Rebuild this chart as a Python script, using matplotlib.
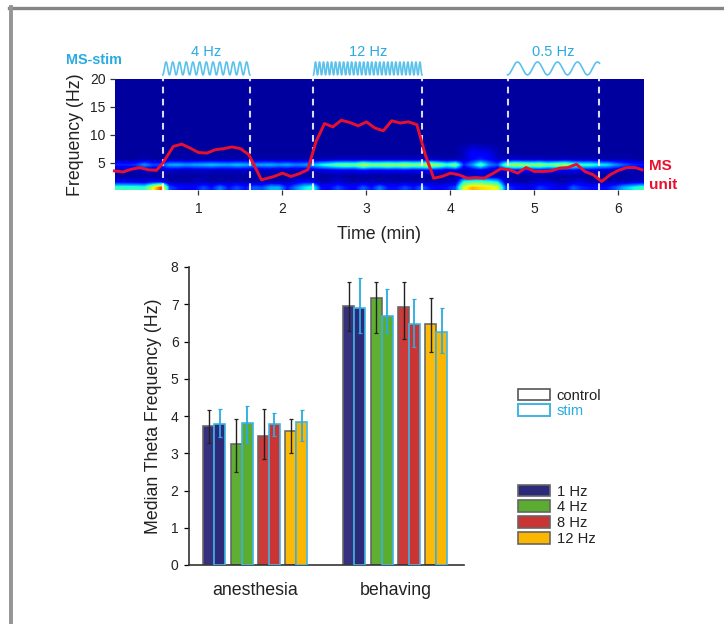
import numpy as np
import matplotlib
matplotlib.use("Agg")
import matplotlib.pyplot as plt
from matplotlib.lines import Line2D
from matplotlib.patches import Patch
from matplotlib.transforms import blended_transform_factory

plt.rcParams['font.family'] = ['Liberation Sans', 'DejaVu Sans']

W, H = 724, 624
BLUE = '#29abe2'
RED = '#e8102e'
TXT = '#222222'

# ---------- spectrogram data (columns of 0.1 min, rows of 1 Hz) ----------
unit_time = [0.0,0.1,0.2,0.3,0.4,0.5,0.575,0.7,0.8,0.9,1.0,1.1,1.2,1.3,1.4,1.5,1.6,1.7,1.75,1.9,2.0,2.1,2.2,2.3,2.4,2.5,2.6,2.7,2.8,2.9,3.0,3.1,3.2,3.3,3.4,3.5,3.6,3.7,3.8,3.9,4.0,4.1,4.2,4.3,4.4,4.5,4.6,4.7,4.8,4.9,5.0,5.1,5.2,5.3,5.4,5.5,5.6,5.7,5.8,5.9,6.0,6.1,6.2,6.28]
unit_freq = [3.5,3.3,3.8,4.1,3.7,3.6,4.9,7.9,8.3,7.6,6.8,6.7,7.3,7.5,7.8,7.5,6.4,3.4,1.9,2.5,3.1,2.5,3.0,3.7,8.8,12.0,11.4,12.6,12.2,11.6,12.3,11.2,10.7,12.5,12.1,12.3,11.8,6.4,2.2,2.5,3.1,2.8,2.2,2.3,2.2,3.0,3.9,3.7,3.1,4.1,3.4,3.4,3.5,4.0,4.1,4.7,3.4,2.8,1.6,2.8,3.6,4.1,4.1,3.7]

power_0_1hz = [.42,.42,.42,.40,.62,.85,.2,.14,.12,.12, .2,.14,.25,.14,.2,.14,.22,.2,.3,.3,.14,.25,.35,.42, .14,.12,.2,.14,.12,.22,.14,.25,.14,.14,.2,.14,.22,.14, .12,.14,.2, .62,.72,.68,.66,.62, .2,.14,.1,.1,.18,.14,.1,.1,.22,.16,.14,.14, .14,.2,.3,.36,.42]
power_1_2hz = [.1,.1,.09,.08,.1,.1,.04,.04,.04,.05, .05,.04,.04,.04,.05,.04,.04,.05,.05,.04,.05,.08,.12,.1, .04,.05,.07,.05,.04,.05,.05,.04,.05,.04,.05,.04,.05,.04, .04,.05,.06, .38,.42,.44,.4,.34, .06,.05,.04,.05,.07,.07,.05,.04,.07,.08,.04,.04, .04,.05,.05,.06,.07]
power_2_3hz = [.03,.03,.03,.04,.03,.03,.03,.03,.03,.03, .04,.03,.03,.03,.03,.03,.03,.03,.03,.03,.03,.04,.03,.03, .03,.03,.04,.03,.03,.03,.03,.03,.03,.03,.03,.03,.03,.03, .03,.03,.04, .07,.06,.07,.06,.05, .04,.03,.03,.03,.04,.03,.03,.03,.03,.03,.03,.03, .03,.03,.03,.04,.04]
power_3_4hz = [.05,.05,.05,.06,.05,.05,.06,.06,.05,.06, .06,.06,.05,.06,.06,.06,.05,.05,.06,.05,.05,.05,.05,.06, .08,.09,.1,.1,.1,.12,.1,.1,.11,.1,.11,.1,.11,.12, .1,.08,.1, .05,.08,.1,.07,.05, .1,.12,.11,.1,.11,.1,.1,.11,.1,.09,.09,.08, .07,.06,.05,.05,.04]
power_4_5hz = [.16,.16,.18,.28,.2,.2, .3,.31,.28,.3,.31,.33,.31,.3,.33,.31, .28,.3,.31,.28,.3,.26,.28,.3, .38,.43,.48,.5,.48,.6,.53,.53,.56,.53,.58,.53,.56,.6, .53,.43,.53, .16,.28,.46,.27,.2, .5,.58,.56,.53,.56,.48,.53,.58,.48,.43,.43,.38, .36,.28,.22,.17,.15]
power_5_6hz = [.03,.03,.03,.04,.03,.03,.04,.04,.04,.04, .04,.04,.04,.04,.04,.04,.04,.04,.04,.04,.04,.04,.04,.04, .05,.05,.06,.06,.06,.06,.06,.06,.06,.06,.06,.06,.06,.06, .05,.04,.05, .06,.12,.16,.12,.06, .06,.07,.06,.06,.06,.05,.05,.06,.05,.05,.05,.04, .04,.04,.04,.04,.03]
power_6_7hz = [.03]*41 + [.06,.12,.11,.1,.05] + [.03]*17
power_7_8hz = [.03]*41 + [.05,.08,.07,.06,.04] + [.03]*17
background_power = 0.03

# ---------- stimulation epochs ----------
stim_labels = ['4 Hz', '12 Hz', '0.5 Hz']
stim_start = [0.574, 2.369, 4.679]
stim_stop = [1.613, 3.66, 5.774]
stim_cycles = [13, 27, 4.6]

# ---------- bar data ----------
conditions = ['anesthesia', 'behaving']
stim_freqs = ['1 Hz', '4 Hz', '8 Hz', '12 Hz']
freq_colors = ['#2e2a7a', '#5aad2e', '#cc3333', '#fbb700']
control_anes = [3.74, 3.25, 3.46, 3.59]
control_anes_hi = [4.16, 3.92, 4.20, 3.92]
control_anes_lo = [3.28, 2.49, 2.84, 3.02]
stim_anes = [3.79, 3.80, 3.79, 3.83]
stim_anes_hi = [4.20, 4.27, 4.09, 4.16]
stim_anes_lo = [3.44, 3.28, 3.45, 3.34]
control_beh = [6.94, 7.16, 6.92, 6.47]
control_beh_hi = [7.60, 7.60, 7.60, 7.16]
control_beh_lo = [6.29, 6.24, 6.06, 5.71]
stim_beh = [6.89, 6.69, 6.47, 6.25]
stim_beh_hi = [7.70, 7.40, 7.14, 6.89]
stim_beh_lo = [6.24, 6.24, 5.84, 5.68]


def px_axes(fig, x0, x1, ytop, ybot):
    return fig.add_axes([x0 / W, 1 - ybot / H, (x1 - x0) / W, (ybot - ytop) / H])


fig = plt.figure(figsize=(W / 100, H / 100), dpi=100, facecolor='white')

# outer frame, open on the right and bottom
fig.add_artist(Line2D([9 / W, 1], [1 - 8 / H] * 2, color='#858585', lw=2.4))
fig.add_artist(Line2D([10.5 / W] * 2, [0, 1 - 7 / H], color='#959595', lw=2.8))

# ---------- spectrogram ----------
ax = px_axes(fig, 114.5, 643, 79, 190.4)
S = np.full((20, 63), background_power, dtype=float)
for row, vals in enumerate([power_0_1hz, power_1_2hz, power_2_3hz, power_3_4hz,
                            power_4_5hz, power_5_6hz, power_6_7hz, power_7_8hz]):
    S[row] = vals
ax.imshow(S, origin='lower', extent=[0, 6.3, 0, 20], aspect='auto', cmap='jet',
          vmin=0, vmax=1, interpolation='bilinear')
ax.set_xlim(0, 6.292)
ax.set_ylim(0, 20)
for t in stim_start + stim_stop:
    ax.axvline(t, color='white', lw=1.5, ls=(0, (3.2, 2.6)), alpha=0.85)
ax.plot(unit_time, unit_freq, color=RED, lw=2.1, clip_on=False)
for s in ax.spines.values():
    s.set_visible(False)
ax.set_xticks([1, 2, 3, 4, 5, 6])
ax.set_yticks([5, 10, 15, 20])
ax.tick_params(axis='both', labelsize=10, length=3.5, width=0.9, color='#333333',
               labelcolor=TXT, pad=3)
ax.tick_params(axis='x', pad=5)
ax.set_xlabel('Time (min)', fontsize=12.8, color=TXT, labelpad=7)
ax.set_ylabel('Frequency (Hz)', fontsize=12.8, color=TXT, labelpad=4)

tr = blended_transform_factory(ax.transData, ax.transAxes)
for lab, a, b, n in zip(stim_labels, stim_start, stim_stop, stim_cycles):
    tt = np.linspace(a, b, 1200)
    yy = 1.095 + 0.058 * np.cos(2 * np.pi * n * (tt - a) / (b - a) + np.pi)
    ax.plot(tt, yy, color='#5cc2ec', lw=1.2, transform=tr, clip_on=False)
    ax.text((a + b) / 2, 1.24, lab, color=BLUE, fontsize=10.5, ha='center', va='center',
            transform=tr)
fig.text(93.5 / W, 1 - 60 / H, 'MS-stim', color=BLUE, fontsize=10.4, fontweight='bold',
         ha='center', va='center')
fig.text(649 / W, 1 - 166 / H, 'MS', color=RED, fontsize=11, fontweight='bold', ha='left', va='center')
fig.text(649 / W, 1 - 185 / H, 'unit', color=RED, fontsize=11, fontweight='bold', ha='left', va='center')

# ---------- bars ----------
bx = px_axes(fig, 189, 464, 267, 565)
cat_pos = np.arange(len(conditions), dtype=float)
bx.set_xlim(-0.4736, 1.4907)
bx.set_ylim(0, 8)
group_step = 27.3 / 140
bar_w = 10.9 / 140
groups = [(control_anes, control_anes_hi, control_anes_lo, stim_anes, stim_anes_hi, stim_anes_lo),
          (control_beh, control_beh_hi, control_beh_lo, stim_beh, stim_beh_hi, stim_beh_lo)]
for cpos, g in zip(cat_pos, groups):
    c, chi, clo, s, shi, slo = g
    for i, col in enumerate(freq_colors):
        x = cpos + (i - 1.5) * group_step
        bx.bar(x - bar_w / 2, c[i], bar_w, color=col, edgecolor='#666666', lw=1.2, alpha=0.97, zorder=2)
        bx.bar(x + bar_w / 2, s[i], bar_w, color=col, edgecolor='#3fb4e6', lw=1.2, zorder=3)
        bx.errorbar(x - bar_w / 2, c[i], yerr=[[c[i] - clo[i]], [chi[i] - c[i]]], color='#222222',
                    lw=1.0, capsize=1.3, capthick=0.9, zorder=4)
        bx.errorbar(x + bar_w / 2, s[i], yerr=[[s[i] - slo[i]], [shi[i] - s[i]]], color=BLUE,
                    lw=1.3, capsize=1.3, capthick=0.9, zorder=4)
for sp in ['top', 'right']:
    bx.spines[sp].set_visible(False)
for sp in ['left', 'bottom']:
    bx.spines[sp].set_linewidth(1.2)
    bx.spines[sp].set_color('#333333')
bx.set_xticks(cat_pos)
bx.set_xticklabels(conditions, fontsize=12.8, color=TXT)
bx.tick_params(axis='x', length=0, pad=12)
bx.set_yticks(range(9))
bx.tick_params(axis='y', labelsize=10, length=3.5, width=0.9, labelcolor=TXT, pad=4)
bx.set_ylabel('Median Theta Frequency (Hz)', fontsize=12.8, color=TXT, labelpad=6.5)

leg_kw = dict(frameon=False, fontsize=10.6, handlelength=2.2, handleheight=0.85, handletextpad=0.45,
              labelspacing=0.13, borderpad=0, borderaxespad=0, loc='upper left',
              bbox_transform=fig.transFigure)
h1 = [Patch(facecolor='white', edgecolor='#555555', lw=1.2, label='control'),
      Patch(facecolor='white', edgecolor='#3fb4e6', lw=1.4, label='stim')]
l1 = bx.legend(handles=h1, bbox_to_anchor=(517.5 / W, 1 - 388.5 / H), **leg_kw)
l1.get_texts()[0].set_color(TXT)
l1.get_texts()[1].set_color(BLUE)
bx.add_artist(l1)
h2 = [Patch(facecolor=c, edgecolor='#666666', lw=1.2, label=l) for c, l in zip(freq_colors, stim_freqs)]
l2 = bx.legend(handles=h2, bbox_to_anchor=(517.5 / W, 1 - 484.5 / H), **leg_kw)
for t in l2.get_texts():
    t.set_color(TXT)

fig.savefig('out.png', dpi=100, facecolor='white')
